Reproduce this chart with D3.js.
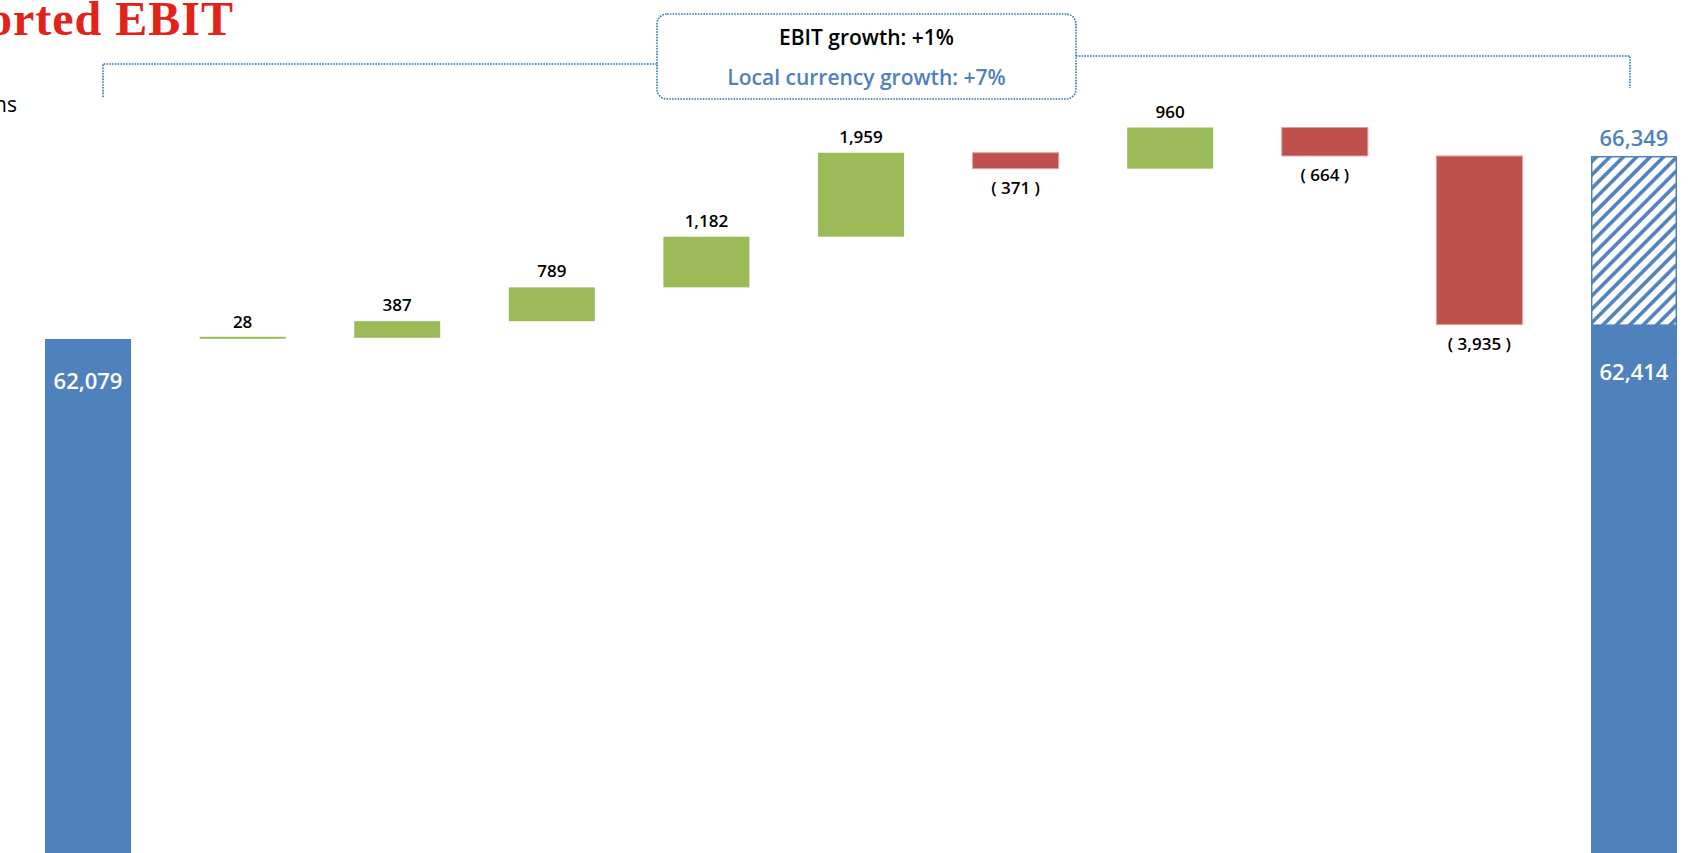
<!DOCTYPE html>
<html>
<head>
<meta charset="utf-8">
<script src="https://cdn.jsdelivr.net/npm/d3@7"></script>
<style>
  html, body { margin: 0; padding: 0; background: #fff; overflow: hidden; }
  svg { display: block; }
</style>
</head>
<body>
<svg id="chart" width="1692" height="853"></svg>
<script>
// ---- Data -------------------------------------------------------------
const categories = [
  "Prior year", "Step 1", "Step 2", "Step 3", "Step 4", "Step 5",
  "Step 6", "Step 7", "Step 8", "Step 9", "Current year"
];
const startValue = 62079;
const changes = [28, 387, 789, 1182, 1959, -371, 960, -664, -3935];
const endValue = 62414;
const localCurrencyValue = 66349;   // total before the final (currency) step
const growthLines = ["EBIT growth: +1%", "Local currency growth: +7%"];
const titleText = "Reported EBIT";
const unitText = "millions";

// ---- Colours ------------------------------------------------------------
const BLUE = "#4f81bd", GREEN = "#9bbb59", RED = "#c0504d", DOT = "#2e75c4";

// ---- Layout -------------------------------------------------------------
const W = 1692, H = 853;
const svg = d3.select("#chart");

const x = d3.scaleBand()
  .domain(categories)
  .range([45, 1677])
  .paddingInner(0.4435)
  .paddingOuter(0);

// value axis is truncated: the totals run off the bottom edge
const y = d3.scaleLinear()
  .domain([50000, 68000])
  .range([856.7, 85.2]);

const fmt = d3.format(",");
const bw = x.bandwidth();

// ---- Build the waterfall steps ------------------------------------------
let running = startValue;
const steps = changes.map((v, i) => {
  const from = running;
  running += v;
  return { cat: categories[i + 1], value: v, from, to: running };
});

const defs = svg.append("defs");
const pat = defs.append("pattern")
  .attr("id", "hatch")
  .attr("patternUnits", "userSpaceOnUse")
  .attr("width", 9.5).attr("height", 9.5)
  .attr("patternTransform", "rotate(45)");
pat.append("rect").attr("width", 9.5).attr("height", 9.5).attr("fill", "#fff");
pat.append("line")
  .attr("x1", 4.75).attr("x2", 4.75).attr("y1", 0).attr("y2", 9.5)
  .attr("stroke", BLUE).attr("stroke-width", 3.6);

// ---- Title & unit ---------------------------------------------------------
svg.append("text")
  .attr("x", 234).attr("y", 35)
  .attr("text-anchor", "end")
  .attr("font-family", "'Liberation Serif', serif")
  .attr("font-weight", "bold")
  .attr("font-size", 48)
  .attr("letter-spacing", 1)
  .attr("fill", "#e2231a")
  .text(titleText);

svg.append("text")
  .attr("x", 17).attr("y", 112)
  .attr("text-anchor", "end")
  .attr("font-family", "'Open Sans', sans-serif")
  .attr("font-size", 21)
  .attr("fill", "#000")
  .text(unitText);

// ---- Growth annotation -------------------------------------------------------
const bracketLeft = x(categories[0]) + bw / 2 + 15;
const bracketRight = x(categories[categories.length - 1]) + bw / 2 - 4;
const box = { x0: 657, x1: 1076, y0: 14, y1: 99 };

const dotted = g => g.attr("fill", "none")
  .attr("stroke", DOT)
  .attr("stroke-width", 1.6)
  .attr("stroke-dasharray", "1.6,1.2");

svg.append("path")
  .attr("d", `M${bracketLeft},97 V64 H${box.x0}`)
  .call(dotted);
svg.append("path")
  .attr("d", `M${box.x1},56 H${bracketRight} V88`)
  .call(dotted);
svg.append("rect")
  .attr("x", box.x0).attr("y", box.y0)
  .attr("width", box.x1 - box.x0).attr("height", box.y1 - box.y0)
  .attr("rx", 10).attr("ry", 10)
  .call(dotted);

const boxCx = (box.x0 + box.x1) / 2;
svg.append("text")
  .attr("x", boxCx).attr("y", 45)
  .attr("text-anchor", "middle")
  .attr("font-family", "'Open Sans', sans-serif")
  .attr("font-weight", 600)
  .attr("font-size", 21)
  .attr("fill", "#000")
  .text(growthLines[0]);
svg.append("text")
  .attr("x", boxCx).attr("y", 85)
  .attr("text-anchor", "middle")
  .attr("font-family", "'Open Sans', sans-serif")
  .attr("font-weight", 600)
  .attr("font-size", 21)
  .attr("fill", BLUE)
  .text(growthLines[1]);

// ---- Total bars ---------------------------------------------------------------
const bottom = y.range()[0];
const labelFont = "'Open Sans', sans-serif";

// opening total
svg.append("rect")
  .attr("x", x(categories[0])).attr("width", bw)
  .attr("y", y(startValue)).attr("height", bottom - y(startValue))
  .attr("fill", BLUE);
svg.append("text")
  .attr("x", x(categories[0]) + bw / 2).attr("y", y(startValue) + 50)
  .attr("text-anchor", "middle")
  .attr("font-family", labelFont).attr("font-weight", 600).attr("font-size", 22)
  .attr("fill", "#fff")
  .text(fmt(startValue));

// closing total: solid reported part + hatched local-currency part
const lastCat = categories[categories.length - 1];
svg.append("rect")
  .attr("x", x(lastCat) + 0.75).attr("width", bw - 1.5)
  .attr("y", y(localCurrencyValue) + 0.75)
  .attr("height", y(endValue) - y(localCurrencyValue))
  .attr("fill", "url(#hatch)")
  .attr("stroke", BLUE).attr("stroke-width", 1.5);
svg.append("rect")
  .attr("x", x(lastCat)).attr("width", bw)
  .attr("y", y(endValue)).attr("height", bottom - y(endValue))
  .attr("fill", BLUE);
svg.append("text")
  .attr("x", x(lastCat) + bw / 2).attr("y", y(endValue) + 55)
  .attr("text-anchor", "middle")
  .attr("font-family", labelFont).attr("font-weight", 600).attr("font-size", 22)
  .attr("fill", "#fff")
  .text(fmt(endValue));
svg.append("text")
  .attr("x", x(lastCat) + bw / 2).attr("y", y(localCurrencyValue) - 10)
  .attr("text-anchor", "middle")
  .attr("font-family", labelFont).attr("font-weight", 600).attr("font-size", 22)
  .attr("fill", BLUE)
  .text(fmt(localCurrencyValue));

// ---- Step bars --------------------------------------------------------------
const stepG = svg.append("g");
stepG.selectAll("rect")
  .data(steps)
  .join("rect")
  .attr("x", d => x(d.cat))
  .attr("width", bw)
  .attr("y", d => Math.min(y(d.from), y(d.to)) - (Math.abs(y(d.from) - y(d.to)) < 2 ? 1 : 0))
  .attr("height", d => Math.max(2, Math.abs(y(d.from) - y(d.to))))
  .attr("fill", d => d.value >= 0 ? GREEN : RED)
  .attr("stroke", d => d.value >= 0 ? "none" : "#e0a09e")
  .attr("stroke-width", 1);

stepG.selectAll("text")
  .data(steps)
  .join("text")
  .attr("x", d => x(d.cat) + bw / 2)
  .attr("y", d => d.value >= 0 ? y(d.to) - 10 : y(d.to) + 25)
  .attr("text-anchor", "middle")
  .attr("font-family", labelFont)
  .attr("font-weight", 600)
  .attr("font-size", 17)
  .attr("fill", "#000")
  .text(d => d.value >= 0 ? fmt(d.value) : `( ${fmt(-d.value)} )`);
</script>
</body>
</html>
